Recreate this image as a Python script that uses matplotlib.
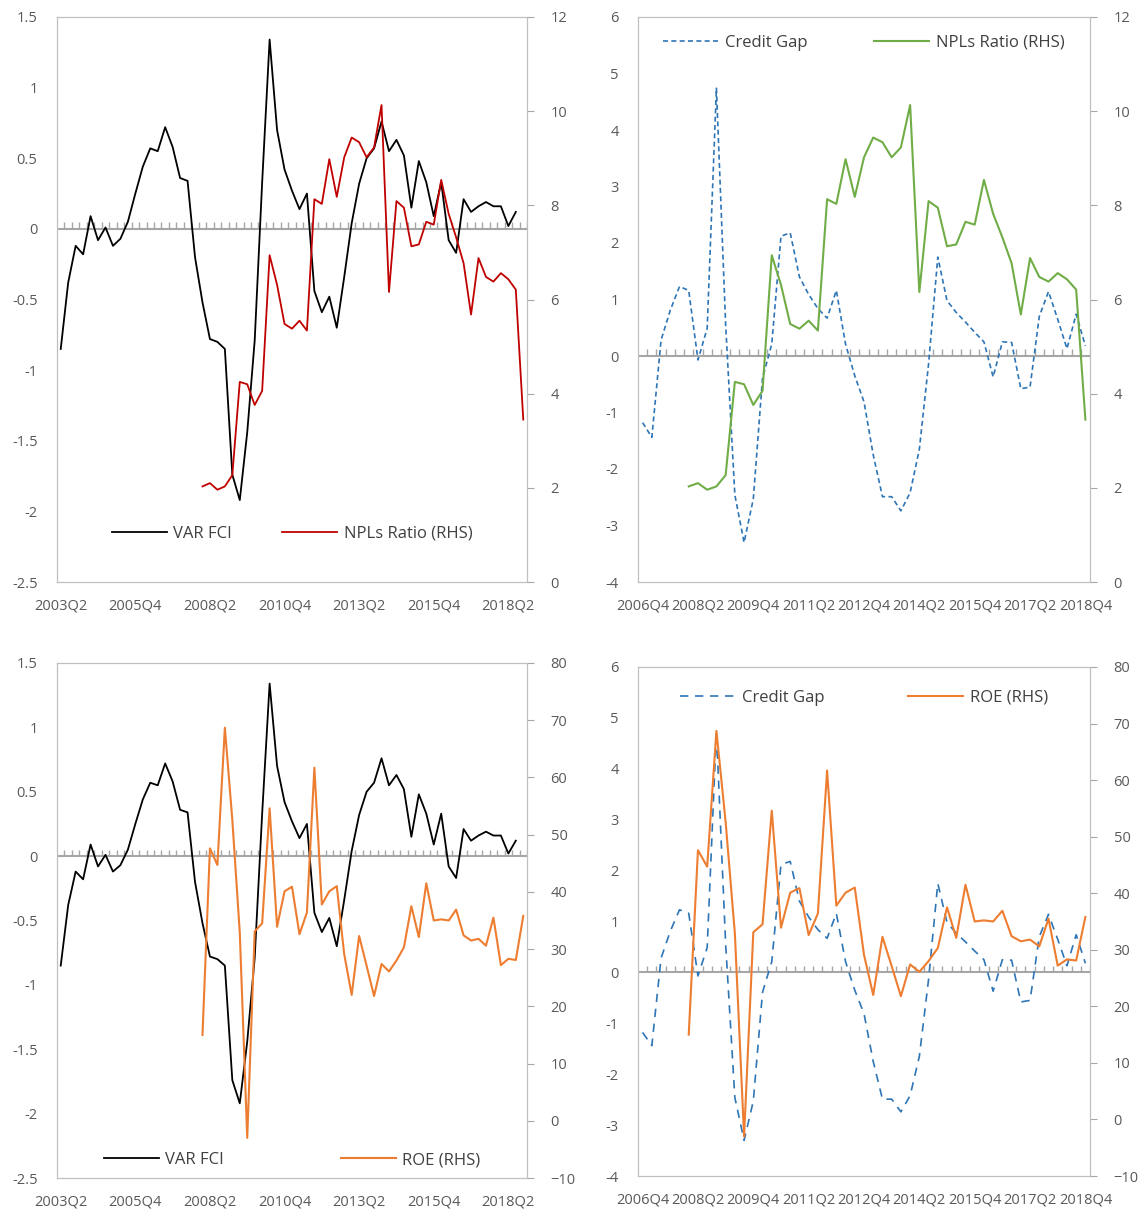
import numpy as np
import matplotlib.pyplot as plt

plt.rcParams['font.family'] = ['Open Sans', 'DejaVu Sans']

# quarterly categories
q_long = ['%dQ%d' % (2003 + (i + 1) // 4, (i + 1) % 4 + 1) for i in range(63)]   # 2003Q2..2018Q4
q_short = q_long[14:]                                                              # 2006Q4..2018Q4

var_fci = [-0.85, -0.38, -0.12, -0.18, 0.09, -0.08, 0.01, -0.12, -0.07, 0.05,
           0.25, 0.44, 0.57, 0.55, 0.72, 0.58, 0.36, 0.34, -0.20, -0.52,
           -0.78, -0.80, -0.85, -1.74, -1.92, -1.44, -0.79, 0.33, 1.34, 0.70,
           0.42, 0.27, 0.14, 0.25, -0.44, -0.59, -0.48, -0.70, -0.34, 0.04,
           0.32, 0.50, 0.57, 0.76, 0.55, 0.63, 0.52, 0.15, 0.48, 0.33,
           0.09, 0.33, -0.08, -0.17, 0.21, 0.12, 0.16, 0.19, 0.16, 0.16,
           0.02, 0.12]
# NPLs ratio from 2008Q1 to 2018Q4
npl = [2.03, 2.10, 1.96, 2.03, 2.27, 4.25, 4.20, 3.76, 4.06, 6.94,
       6.31, 5.48, 5.38, 5.55, 5.34, 8.13, 8.03, 8.98, 8.18, 9.02,
       9.44, 9.34, 9.02, 9.23, 10.13, 6.16, 8.09, 7.95, 7.13, 7.17,
       7.65, 7.59, 8.54, 7.82, 7.32, 6.77, 5.68, 6.88, 6.48, 6.38,
       6.56, 6.43, 6.21, 3.45]
# ROE from 2008Q1 to 2018Q4
roe = [15.0, 47.6, 44.7, 68.7, 52.6, 32.9, -3.0, 33.1, 34.5, 54.6,
       33.9, 40.1, 40.9, 32.6, 36.4, 61.7, 37.8, 40.1, 41.0, 29.1,
       22.0, 32.3, 27.1, 21.8, 27.4, 26.1, 28.0, 30.3, 37.5, 32.1,
       41.5, 35.0, 35.2, 35.0, 36.9, 32.4, 31.5, 31.8, 30.6, 35.5,
       27.2, 28.3, 28.1, 35.8]
# Credit gap from 2006Q4 to 2018Q4
credit_gap = [-1.18, -1.44, 0.28, 0.81, 1.23, 1.16, -0.07, 0.49, 4.74, 0.56,
              -2.46, -3.30, -2.53, -0.39, 0.21, 2.12, 2.18, 1.40, 1.09, 0.84,
              0.67, 1.16, 0.21, -0.35, -0.81, -1.75, -2.49, -2.49, -2.74, -2.42,
              -1.65, -0.14, 1.75, 0.98, 0.77, 0.60, 0.42, 0.25, -0.37, 0.25,
              0.24, -0.58, -0.55, 0.70, 1.14, 0.65, 0.13, 0.74, 0.18]

GREY = '#A6A6A6'
TXT = '#595959'
W, H = 1145, 1211
fig = plt.figure(figsize=(W / 100, H / 100), dpi=100)


def make_axes(x0, y0, x1, y1):
    ax = fig.add_axes([x0 / W, 1 - y1 / H, (x1 - x0) / W, (y1 - y0) / H])
    ax2 = ax.twinx()
    for a in (ax, ax2):
        for s in a.spines.values():
            s.set_color('#BFBFBF')
        a.tick_params(colors=TXT, labelsize=10.5, length=5, color=GREY, pad=12)
    ax.tick_params(axis='y', length=0, pad=14)
    ax.tick_params(axis='x', length=0, pad=12)
    return ax, ax2


def finish(ax, ax2, n, step, labels, ylim, yticks, ylabels, y2lim, y2ticks):
    ax.set_xlim(-0.5, n - 0.5)
    ax.set_ylim(*ylim)
    ax.set_yticks(yticks, ylabels)
    ax2.set_ylim(*y2lim)
    ax2.set_yticks(y2ticks)
    ax.set_xticks(range(0, n, step), labels[::step])
    ax.axhline(0, color=GREY, lw=1.5, zorder=1)
    h = (ylim[1] - ylim[0]) * 0.012
    ax.vlines(np.arange(n) + 0.5, 0, h, color=GREY, lw=1, zorder=1)


def fmt(v):
    return ('%g' % v)


LEG = dict(ncol=2, frameon=False, fontsize=12, handlelength=3.3, handletextpad=0.4,
           labelcolor='#404040')
xl = np.arange(63)
xs = np.arange(49)
lt = [-2.5, -2, -1.5, -1, -0.5, 0, 0.5, 1, 1.5]

# top-left
ax, ax2 = make_axes(57, 17, 527, 582)
ax.plot(xl[:len(var_fci)], var_fci, color='black', lw=1.3, label='VAR FCI')
ax2.plot(xl[19:], npl, color='#C00000', lw=1.3, label='NPLs Ratio (RHS)')
finish(ax, ax2, 63, 10, q_long, (-2.5, 1.5), lt, [fmt(v) for v in lt], (0, 12), range(0, 13, 2))
ax.legend(handles=ax.get_lines()[:1] + ax2.get_lines(), loc='lower center', bbox_to_anchor=(0.5, 0.045),
          columnspacing=3, **LEG)

# top-right
ax, ax2 = make_axes(638, 17, 1090, 582)
ax.plot(xs, credit_gap, color='#2E75B6', lw=1.2, ls=(0, (3, 2)), label='Credit Gap')
ax2.plot(xs[5:], npl, color='#70AD47', lw=1.5, label='NPLs Ratio (RHS)')
finish(ax, ax2, 49, 6, q_short, (-4, 6), range(-4, 7), [str(v) for v in range(-4, 7)], (0, 12), range(0, 13, 2))
ax.legend(handles=ax.get_lines()[:1] + ax2.get_lines(), loc='upper center', bbox_to_anchor=(0.5, 0.995),
          columnspacing=4, **LEG)

# bottom-left
ax, ax2 = make_axes(57, 663, 527, 1178)
ax.plot(xl[:len(var_fci)], var_fci, color='black', lw=1.3, label='VAR FCI')
ax2.plot(xl[19:], roe, color='#ED7D31', lw=1.5, label='ROE (RHS)')
finish(ax, ax2, 63, 10, q_long, (-2.5, 1.5), lt, [fmt(v) for v in lt], (-10, 80), range(-10, 81, 10))
ax.legend(handles=ax.get_lines()[:1] + ax2.get_lines(), loc='lower center', bbox_to_anchor=(0.5, -0.01),
          columnspacing=7, **LEG)

# bottom-right
ax, ax2 = make_axes(638, 667, 1090, 1176)
ax.plot(xs, credit_gap, color='#2E75B6', lw=1.2, ls=(0, (5, 4)), label='Credit Gap')
ax2.plot(xs[5:], roe, color='#ED7D31', lw=1.5, label='ROE (RHS)')
finish(ax, ax2, 49, 6, q_short, (-4, 6), range(-4, 7), [str(v) for v in range(-4, 7)], (-10, 80), range(-10, 81, 10))
ax.legend(handles=ax.get_lines()[:1] + ax2.get_lines(), loc='upper center', bbox_to_anchor=(0.5, 0.985),
          columnspacing=5, **LEG)

fig.savefig('out.png', dpi=100)
